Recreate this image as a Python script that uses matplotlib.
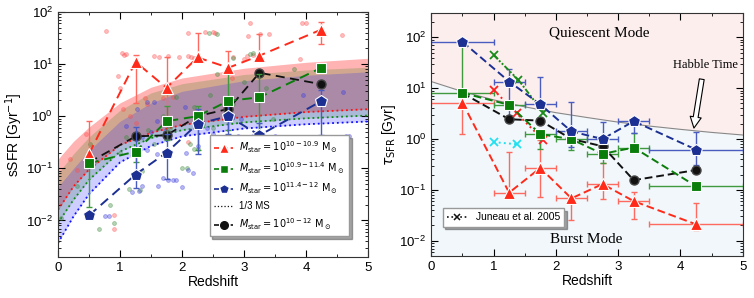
import matplotlib
matplotlib.use("Agg")
import matplotlib.pyplot as plt
import numpy as np
from matplotlib.lines import Line2D

plt.rcParams["font.family"] = ["Liberation Sans", "DejaVu Sans"]
plt.rcParams["mathtext.fontset"] = "dejavusans"

# redshift bins
Z_BIN = [0.5, 1.25, 1.75, 2.25, 2.75, 3.25, 4.25]
Z_LO = [0.0, 1.0, 1.5, 2.0, 2.5, 3.0, 3.5]
Z_HI = [1.0, 1.5, 2.0, 2.5, 3.0, 3.5, 5.0]

# left panel: sSFR [Gyr^-1]
SSFR_RED = [0.19, 11.0, 3.5, 13.4, 8.5, 14.5, 46.0]
SSFR_RED_LO = [np.nan, 1.8, 1.0, np.nan, np.nan, np.nan, 24.0]
SSFR_RED_HI = [0.8, 15.0, 13.5, 40.0, 18.0, 37.0, 63.0]
SSFR_GREEN = [0.125, 0.21, 0.8, 1.0, 1.97, 2.3, 8.5]
SSFR_GREEN_LO = [0.018, 0.13, 0.35, 0.22, 0.55, 0.45, np.nan]
SSFR_GREEN_HI = [np.nan, 0.25, 1.55, 1.6, 7.0, 6.5, np.nan]
SSFR_BLUE = [0.0125, 0.076, 0.2, 0.71, 1.0, 0.43, 1.95]
SSFR_BLUE_LO = [np.nan, 0.042, 0.062, 0.19, 0.45, np.nan, 0.43]
SSFR_BLUE_HI = [np.nan, 0.63, 0.45, 1.4, 1.65, 0.75, 3.2]
SSFR_ALL = [0.13, 0.41, 0.43, 1.0, 1.38, 6.8, 4.1]

# main-sequence bands (upper edge) and 1/3 MS dotted lines (lower edge)
Z_BAND = [0, 0.25, 0.5, 1, 1.5, 2, 3, 4, 5]
MS_RED_TOP = [0.15, 0.33, 0.62, 1.8, 3.6, 5.4, 8.3, 10.8, 12.9]
MS_RED_LOW = [0.016, 0.045, 0.095, 0.28, 0.48, 0.68, 0.97, 1.2, 1.36]
MS_GREEN_TOP = [0.08, 0.19, 0.4, 1.3, 2.8, 4.2, 6.3, 7.7, 8.7]
MS_GREEN_LOW = [0.009, 0.025, 0.06, 0.21, 0.38, 0.54, 0.76, 0.91, 1.03]
MS_BLUE_TOP = [0.044, 0.1, 0.22, 0.8, 1.8, 3.0, 4.8, 6.1, 7.1]
MS_BLUE_LOW = [0.0037, 0.012, 0.032, 0.13, 0.27, 0.41, 0.58, 0.7, 0.79]

# individual galaxies
GAL_RED_Z = [0.77, 1.03, 1.07, 1.1, 0.96, 1.0, 1.4, 1.43, 1.54, 1.63, 1.78, 1.95, 2.1, 2.15, 2.2,
             2.09, 2.37, 2.5, 2.54, 3.1, 3.26, 3.4, 3.93, 4.0, 4.58, 3.07, 2.83, 3.0, 3.05, 3.15,
             3.9, 1.16, 1.05, 0.31, 0.9, 0.9, 0.45, 1.7, 1.85, 2.1, 0.2, 2.8, 1.25]
GAL_RED_S = [43, 16, 15, 15.5, 5.8, 3.4, 2.2, 1.7, 14, 13.5, 14, 13.5, 14, 13.8, 13,
             40, 41, 42, 39, 60, 38, 38, 62, 62, 36, 34, 13.6, 12.5, 14, 15,
             12.7, 1.0, 1.4, 0.093, 0.0068, 0.0126, 0.45, 2.2, 2.3, 0.32, 0.15, 5.4, 0.75]
GAL_GREEN_Z = [2.44, 2.56, 0.84, 0.9, 0.66, 1.55, 1.32, 1.15, 2.13, 2.0, 2.08, 2.2, 2.25, 2.34,
               2.45, 2.56, 2.83, 3.1, 2.83, 3.2, 3.47, 3.8, 2.5, 1.8, 1.7, 0.05, 0.3, 0.52,
               0.45, 1.0, 1.1, 1.45, 1.9, 2.2, 3.0, 3.35, 2.7, 1.35, 3.15]
GAL_GREEN_S = [40, 38, 0.02, 0.009, 0.0068, 0.29, 0.038, 0.04, 0.29, 0.1, 0.1, 0.23, 0.23, 0.71,
               2.5, 6.5, 13, 15.8, 1.7, 2.3, 0.89, 8.0, 0.6, 0.6, 1.0, 0.011, 0.046, 0.29,
               0.15, 0.2, 0.4, 0.55, 2.3, 1.5, 4.6, 3.5, 1.1, 0.09, 16]
GAL_BLUE_Z = [1.27, 1.54, 1.43, 2.05, 2.3, 2.5, 2.9, 3.15, 3.5, 3.96, 4.6, 4.65, 4.7, 0.75, 0.82,
              1.2, 1.3, 1.6, 1.77, 1.85, 1.9, 2.0, 2.18, 1.43, 1.73, 1.6, 2.4, 2.83, 2.95, 1.1,
              1.35, 1.5, 2.25, 2.07, 3.3, 1.35, 1.62, 1.7, 2.1]
GAL_BLUE_S = [1.4, 1.86, 1.9, 1.5, 0.82, 0.46, 0.42, 0.42, 0.42, 2.6, 2.9, 0.42, 0.42, 0.012, 0.012,
              0.035, 0.037, 0.19, 0.06, 0.06, 0.06, 0.043, 0.08, 0.22, 0.53, 0.8, 0.6, 1.0, 0.9, 0.65,
              0.4, 0.5, 0.27, 0.2, 0.45, 0.045, 0.045, 0.064, 0.091]

# right panel: tau_SFR [Gyr]
TAU_RED = [5.2, 0.088, 0.27, 0.068, 0.13, 0.06, 0.021]
TAU_RED_LO = [1.26, np.nan, 0.072, 0.025, 0.065, 0.027, 0.016]
TAU_RED_HI = [np.nan, 0.55, 0.94, np.nan, 0.33, 0.09, 0.056]
TAU_GREEN = [8.1, 4.7, 1.25, 0.99, 0.51, 0.68, 0.118]
TAU_GREEN_LO = [np.nan, np.nan, 0.65, 0.6, 0.34, np.nan, np.nan]
TAU_GREEN_HI = [80, np.nan, np.nan, np.nan, 0.7, 1.3, np.nan]
TAU_BLUE = [82, 13.5, 4.8, 1.41, 1.0, 2.24, 0.62]
TAU_BLUE_LO = [np.nan, 2.4, np.nan, 0.7, 0.6, 1.3, 0.31]
TAU_BLUE_HI = [np.nan, 24, 16.5, 5.3, 2.2, np.nan, 1.4]
TAU_ALL = [8.0, 2.45, 2.3, 1.0, 0.72, 0.155, 0.245]

# Juneau et al. 2005
JUNEAU_RED_Z = [1.0, 1.37, 1.8]
JUNEAU_RED = [9.3, 3.2, 0.95]
JUNEAU_GREEN_Z = [1.0, 1.4, 1.8]
JUNEAU_GREEN = [45, 14.5, 3.3]
JUNEAU_CYAN_Z = [1.0, 1.37]
JUNEAU_CYAN = [0.87, 0.79]

# Hubble time curve
Z_HUBBLE = [0, 0.5, 1, 1.5, 2, 2.5, 3, 3.5, 4, 4.5, 5]
T_HUBBLE = [13.5, 8.6, 5.9, 4.3, 3.3, 2.65, 2.15, 1.8, 1.55, 1.35, 1.2]

RED, GREEN, BLUE, BLACK = "#ff2a1a", "#0a7d0a", "#1c2f92", "#111111"
RED_E, GREEN_E, BLUE_E = "#ff6a60", "#3f9a3f", "#4a5cc0"

LABELS = [r"$M_{\rm star}=10^{10-10.9}\ {\rm M}_\odot$",
          r"$M_{\rm star}=10^{10.9-11.4}\ {\rm M}_\odot$",
          r"$M_{\rm star}=10^{11.4-12}\ {\rm M}_\odot$",
          r"$M_{\rm star}=10^{10-12}\ {\rm M}_\odot$"]


def errs(val, lo, hi):
    val, lo, hi = np.asarray(val), np.asarray(lo, float), np.asarray(hi, float)
    lower = np.where(np.isnan(lo), 0, val - lo)
    upper = np.where(np.isnan(hi), 0, hi - val)
    return np.vstack([lower, upper])


def style_axis(ax):
    ax.set_xlim(0, 5)
    ax.set_xticks([0, 1, 2, 3, 4, 5])
    ax.set_xticks(np.arange(0, 5.01, 0.5), minor=True)
    ax.tick_params(which="both", direction="in", top=True, right=True, labelsize=9.5)
    ax.tick_params(which="major", length=5)
    ax.tick_params(which="minor", length=2.5)
    ax.set_xlabel("Redshift", fontsize=10, labelpad=1)
    for s in ax.spines.values():
        s.set_color("#333333")


fig = plt.figure(figsize=(7.54, 2.98), dpi=100)
ax1 = fig.add_axes([0.077, 0.138, 0.411, 0.822])
ax2 = fig.add_axes([0.572, 0.141, 0.413, 0.815])

# ---------- left panel ----------
ax1.set_yscale("log")
ax1.set_ylim(0.002, 100)
ax1.fill_between(Z_BAND, MS_RED_LOW, MS_RED_TOP, color="#ff2020", alpha=0.34, lw=0, zorder=1)
ax1.fill_between(Z_BAND, MS_GREEN_LOW, MS_GREEN_TOP, color="#1a8000", alpha=0.2, lw=0, zorder=1)
ax1.fill_between(Z_BAND, MS_BLUE_LOW, MS_BLUE_TOP, color="#2020ff", alpha=0.22, lw=0, zorder=1)
ax1.plot(Z_BAND, MS_RED_LOW, ls=":", color="#ff1010", lw=1.3, zorder=2)
ax1.plot(Z_BAND, MS_GREEN_LOW, ls=":", color="#108a10", lw=1.3, zorder=2)
ax1.plot(Z_BAND, MS_BLUE_LOW, ls=":", color="#1010ff", lw=1.3, zorder=2)

for gz, gs, c in [(GAL_RED_Z, GAL_RED_S, "#ff5050"), (GAL_GREEN_Z, GAL_GREEN_S, "#3a8a3a"),
                  (GAL_BLUE_Z, GAL_BLUE_S, "#4040e0")]:
    ax1.scatter(gz, gs, s=8, facecolor=c, edgecolor=c, alpha=0.38, lw=0.6, zorder=2)

series_left = [
    (SSFR_RED, SSFR_RED_LO, SSFR_RED_HI, RED, RED_E, "^", 9),
    (SSFR_GREEN, SSFR_GREEN_LO, SSFR_GREEN_HI, GREEN, GREEN_E, "s", 7.5),
    (SSFR_BLUE, SSFR_BLUE_LO, SSFR_BLUE_HI, BLUE, BLUE_E, "p", 9),
]
ax1.plot(Z_BIN, SSFR_ALL, ls=(0, (5, 3)), color=BLACK, lw=1.3, marker="o", ms=6.5,
         mfc=BLACK, mec="#444444", zorder=3)
for val, lo, hi, c, ce, m, ms in series_left:
    ax1.errorbar(Z_BIN, val, yerr=errs(val, lo, hi), fmt="none", ecolor=ce, elinewidth=1,
                 capsize=2, capthick=1, zorder=3)
    ax1.plot(Z_BIN, val, ls=(0, (5, 3)), color=c, lw=1.4, marker=m, ms=ms, mfc=c, mec="white",
             mew=0.8, zorder=4)
ax1.set_ylabel(r"sSFR [Gyr$^{-1}$]", fontsize=10, labelpad=1)
style_axis(ax1)

handles = [
    Line2D([], [], ls=(0, (3, 2)), color=RED, marker="^", ms=7, mfc=RED, mec="white", lw=1.2),
    Line2D([], [], ls=(0, (3, 2)), color=GREEN, marker="s", ms=6, mfc=GREEN, mec="white", lw=1.2),
    Line2D([], [], ls=(0, (3, 2)), color=BLUE, marker="p", ms=7, mfc=BLUE, mec="white", lw=1.2),
    Line2D([], [], ls=":", color=BLACK, lw=0.9),
    Line2D([], [], ls=(0, (3, 2)), color=BLACK, marker="o", ms=5.5, lw=1.2),
]
leg_labels = [LABELS[0], LABELS[1], LABELS[2], "1/3 MS", LABELS[3]]
leg = ax1.legend(handles, leg_labels, loc="lower right", bbox_to_anchor=(0.955, 0.065),
                 fontsize=7.0, fancybox=False, shadow=True, framealpha=1, edgecolor="#999999",
                 handlelength=2.0, handletextpad=0.6, borderpad=0.45, labelspacing=0.5)
leg.set_zorder(10)

# ---------- right panel ----------
ax2.set_yscale("log")
ax2.set_ylim(0.005, 300)
ax2.fill_between(Z_HUBBLE, T_HUBBLE, 300, color="#fdeeee", lw=0, zorder=0)
ax2.fill_between(Z_HUBBLE, 0.005, T_HUBBLE, color="#f1f7fa", lw=0, zorder=0)
ax2.plot(Z_HUBBLE, T_HUBBLE, color="#888888", lw=0.8, zorder=1)

xerr = np.vstack([np.array(Z_BIN) - np.array(Z_LO), np.array(Z_HI) - np.array(Z_BIN)])
ax2.plot(Z_BIN, TAU_ALL, ls=(0, (4, 2)), color=BLACK, lw=1.4, marker="o", ms=6.5,
         mfc=BLACK, mec="#444444", zorder=3)
series_right = [
    (TAU_RED, TAU_RED_LO, TAU_RED_HI, RED, RED_E, "^", 8.5),
    (TAU_GREEN, TAU_GREEN_LO, TAU_GREEN_HI, GREEN, GREEN_E, "s", 7.5),
    (TAU_BLUE, TAU_BLUE_LO, TAU_BLUE_HI, BLUE, BLUE_E, "p", 9),
]
for val, lo, hi, c, ce, m, ms in series_right:
    ax2.errorbar(Z_BIN, val, xerr=xerr, yerr=errs(val, lo, hi), fmt="none", ecolor=ce,
                 elinewidth=1, capsize=2, capthick=1, zorder=2)
    ax2.plot(Z_BIN, val, ls=(0, (4, 2)), color=c, lw=1.4, marker=m, ms=ms, mfc=c, mec="white",
             mew=0.8, zorder=4)

ax2.plot(JUNEAU_RED_Z, JUNEAU_RED, ls=":", color="#ff2020", lw=1.4, marker="x", ms=6, mew=1.3, zorder=3)
ax2.plot(JUNEAU_GREEN_Z, JUNEAU_GREEN, ls=(0, (3, 1, 1, 1, 1, 1)), color="#1a8a1a", lw=1.4,
         marker="x", ms=6, mew=1.3, zorder=3)
ax2.plot(JUNEAU_CYAN_Z, JUNEAU_CYAN, ls=":", color="#22e0f0", lw=1.4, marker="x", ms=6, mew=1.3, zorder=3)

ax2.set_ylabel(r"$\tau_{\rm SFR}$ [Gyr]", fontsize=10, labelpad=1)
style_axis(ax2)

serif = ["Liberation Serif", "DejaVu Serif"]
ax2.text(2.7, 120, "Quiescent Mode", ha="center", va="center", fontsize=11, family=serif)
ax2.text(2.48, 0.0105, "Burst Mode", ha="center", va="center", fontsize=11, family=serif)
ax2.text(4.4, 28, "Habble Time", ha="center", va="center", fontsize=9, family=serif)
ax2.annotate("", xy=(4.21, 1.45), xytext=(4.35, 17),
             arrowprops=dict(arrowstyle="simple,head_width=0.8,head_length=0.8,tail_width=0.35",
                             fc="white", ec="black", lw=0.8))

jh = Line2D([], [], ls=":", color=BLACK, marker="x", ms=5, mew=1.1, lw=1.2)
leg2 = ax2.legend([jh], ["Juneau et al. 2005"], loc="lower left", bbox_to_anchor=(0.02, 0.1),
                  fontsize=7.4, fancybox=False, shadow=True, framealpha=1, edgecolor="#999999",
                  handlelength=2.0)
leg2.set_zorder(10)

fig.savefig("out.png", dpi=100)
